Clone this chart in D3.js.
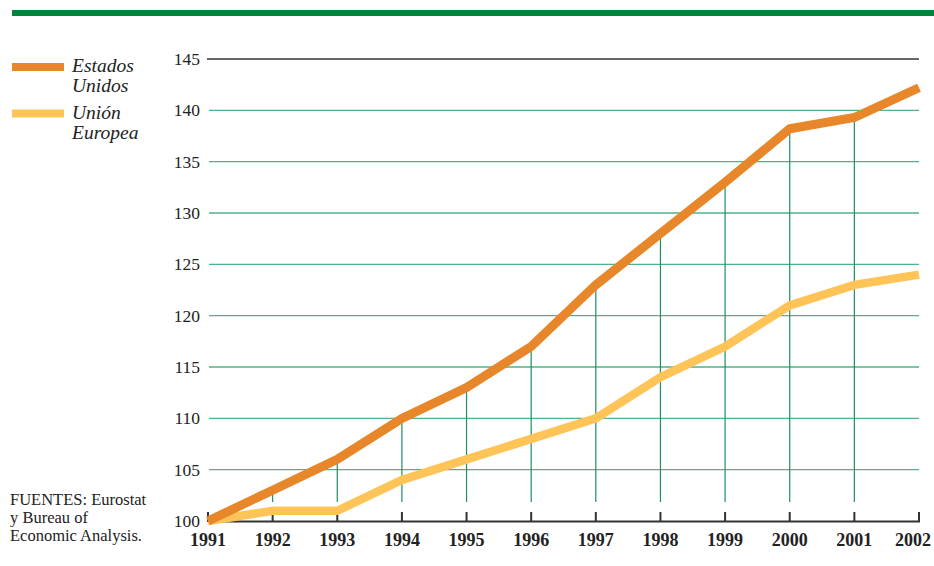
<!DOCTYPE html>
<html>
<head>
<meta charset="utf-8">
<script src="https://cdn.jsdelivr.net/npm/d3@7"></script>
<style>
  html, body { margin: 0; padding: 0; background: #fff; }
  svg { display: block; }
</style>
</head>
<body>
<svg id="chart" width="934" height="566"></svg>
<script>
// Índice (1991 = 100)
const years = [1991, 1992, 1993, 1994, 1995, 1996, 1997, 1998, 1999, 2000, 2001, 2002];
const estadosUnidos = [100, 103, 106, 110, 113, 117, 123, 128, 133, 138.2, 139.3, 142.2];
const unionEuropea = [100, 101, 101, 104, 106, 108, 110, 114, 117, 121, 123, 124];
const yTicks = [100, 105, 110, 115, 120, 125, 130, 135, 140, 145];
const seriesNames = [["Estados", "Unidos"], ["Unión", "Europea"]];
const sourceLines = ["FUENTES: Eurostat", "y Bureau of", "Economic Analysis."];

const svg = d3.select("#chart");
const W = 934;
const plotLeft = 208, plotRight = 919, plotTop = 59, plotBottom = 521;

const x = d3.scalePoint().domain(years).range([plotLeft, plotRight]);
const y = d3.scaleLinear().domain([100, 145]).range([plotBottom, plotTop]);

const serif = "'Liberation Serif', 'Times New Roman', serif";
const usColor = "#E8862A";
const euColor = "#FFC457";
const gridGreen = "#4fb389";
const vGreen = "#1f8f5c";

// Franja superior
svg.append("rect").attr("x", 12).attr("y", 10).attr("width", W - 12).attr("height", 6).attr("fill", "#00843D");

// Líneas horizontales de referencia
svg.append("g").selectAll("line")
  .data(yTicks.filter(v => v > 100))
  .join("line")
  .attr("x1", d => d === 145 ? plotLeft - 1 : plotLeft + 1)
  .attr("x2", plotRight)
  .attr("y1", d => y(d)).attr("y2", d => y(d))
  .attr("stroke", d => d === 145 ? "#333" : gridGreen)
  .attr("stroke-width", d => d === 145 ? 1.6 : 1.4);

// Etiquetas del eje Y
svg.append("g").selectAll("text")
  .data(yTicks)
  .join("text")
  .attr("x", 200)
  .attr("y", d => y(d) + 6)
  .attr("text-anchor", "end")
  .attr("font-family", serif)
  .attr("font-size", 17.5)
  .attr("fill", "#222")
  .text(d => d);

// Líneas verticales desde la serie de EE. UU. hasta la base
const vData = years.map((yr, i) => ({ yr, v: estadosUnidos[i] })).filter(d => d.yr > 1991 && d.yr < 2002);
svg.append("g").selectAll("line")
  .data(vData)
  .join("line")
  .attr("x1", d => x(d.yr)).attr("x2", d => x(d.yr))
  .attr("y1", d => y(d.v)).attr("y2", 502)
  .attr("stroke", vGreen)
  .attr("stroke-width", 1.2);

// Eje X con marcas hacia arriba
const axisG = svg.append("g");
axisG.append("line")
  .attr("x1", plotLeft).attr("x2", plotRight + 1)
  .attr("y1", plotBottom + 0.5).attr("y2", plotBottom + 0.5)
  .attr("stroke", "#333").attr("stroke-width", 2);
axisG.selectAll("line.tick")
  .data(years)
  .join("line")
  .attr("class", "tick")
  .attr("x1", d => x(d)).attr("x2", d => x(d))
  .attr("y1", 512).attr("y2", plotBottom + 1)
  .attr("stroke", "#333").attr("stroke-width", 2);
axisG.selectAll("text")
  .data(years)
  .join("text")
  .attr("x", d => Math.min(x(d), W - 21))
  .attr("y", 546)
  .attr("text-anchor", "middle")
  .attr("font-family", serif)
  .attr("font-weight", "bold")
  .attr("font-size", 18)
  .attr("fill", "#222")
  .text(d => d);

// Series
const line = d3.line().x(d => x(d[0])).y(d => y(d[1]));
svg.append("path")
  .attr("d", line(years.map((yr, i) => [yr, unionEuropea[i]])))
  .attr("fill", "none").attr("stroke", euColor).attr("stroke-width", 8.5);
svg.append("path")
  .attr("d", line(years.map((yr, i) => [yr, estadosUnidos[i]])))
  .attr("fill", "none").attr("stroke", usColor).attr("stroke-width", 9);

// Leyenda
const legend = svg.append("g");
[[usColor, 67], [euColor, 113.5]].forEach(([c, cy], i) => {
  legend.append("rect").attr("x", 12).attr("y", cy - 4).attr("width", 52).attr("height", 8).attr("fill", c);
  const t = legend.append("text")
    .attr("font-family", serif).attr("font-style", "italic").attr("font-size", 19.5).attr("fill", "#222");
  seriesNames[i].forEach((s, j) => {
    t.append("tspan").attr("x", 72).attr("y", cy + 5 + j * 20).text(s);
  });
});

// Fuentes
svg.append("g").selectAll("text")
  .data(sourceLines)
  .join("text")
  .attr("x", 10)
  .attr("y", (d, i) => 505 + i * 18)
  .attr("font-family", serif)
  .attr("font-size", 16.5)
  .attr("fill", "#222")
  .text(d => d);
</script>
</body>
</html>
